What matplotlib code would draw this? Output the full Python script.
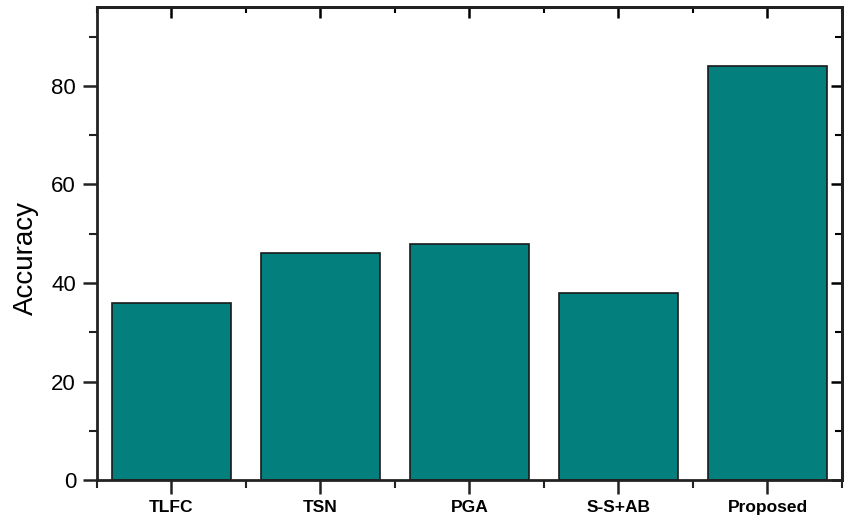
import matplotlib.pyplot as plt
from matplotlib.ticker import MultipleLocator, FixedLocator

methods = ["TLFC", "TSN", "PGA", "S-S+AB", "Proposed"]
accuracy = [36, 46, 48, 38, 84]

plt.rcParams["font.family"] = ["Liberation Sans", "DejaVu Sans"]

fig = plt.figure(figsize=(8.5, 5.19), dpi=100)
ax = fig.add_axes([0.114, 0.075, 0.8766, 0.9115])

x = range(len(methods))
ax.bar(x, accuracy, width=0.8, color="#037f7d", edgecolor="#1a1a1a", linewidth=1.2, zorder=2)

ax.set_xlim(-0.5, 4.5)
ax.set_ylim(0, 96)
ax.set_xticks(list(x))
ax.set_xticklabels(methods, fontsize=12.5, fontweight="bold")
ax.xaxis.set_minor_locator(FixedLocator([i + 0.5 for i in range(-1, len(methods))]))
ax.yaxis.set_major_locator(MultipleLocator(20))
ax.yaxis.set_minor_locator(MultipleLocator(10))
ax.tick_params(axis="y", labelsize=16, pad=5)
ax.tick_params(which="major", direction="out", length=10, width=1.8, color="#222222")
ax.tick_params(which="minor", direction="out", length=6, width=1.5, color="#222222")
ax.tick_params(axis="x", which="major", pad=4)

for s in ax.spines.values():
    s.set_linewidth(2)
    s.set_color("#222222")

top = ax.secondary_xaxis("top")
top.set_xticks(list(x))
top.xaxis.set_minor_locator(FixedLocator([i + 0.5 for i in range(-1, len(methods))]))
top.tick_params(which="major", direction="in", length=8, width=1.8, labeltop=False)
top.tick_params(which="minor", direction="in", length=4, width=1.5)
top.spines["top"].set_linewidth(2)

right = ax.secondary_yaxis("right")
right.yaxis.set_major_locator(MultipleLocator(20))
right.yaxis.set_minor_locator(MultipleLocator(10))
right.tick_params(which="major", direction="in", length=8, width=1.8, labelright=False)
right.tick_params(which="minor", direction="in", length=5, width=1.5)
right.spines["right"].set_linewidth(2)

ax.set_ylabel("Accuracy", fontsize=20, family=["Liberation Sans Narrow", "Liberation Sans"])
ax.yaxis.set_label_coords(-0.078, 0.47)

fig.savefig("out.png", dpi=100)
